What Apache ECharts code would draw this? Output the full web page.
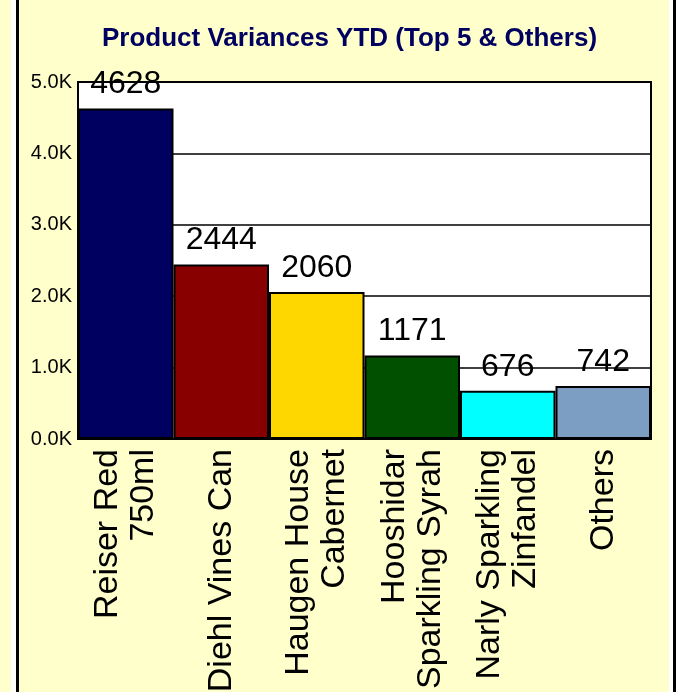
<!DOCTYPE html>
<html>
<head>
<meta charset="utf-8">
<script src="https://cdn.jsdelivr.net/npm/echarts@6/dist/echarts.min.js"></script>
<style>
html,body{margin:0;padding:0;background:#FFFFCC;}
#c{width:681px;height:692px;}
</style>
</head>
<body>
<div id="c"></div>
<script>
var categories = ['Reiser Red\n750ml', 'Diehl Vines Can', 'Haugen House\nCabernet', 'Hooshidar\nSparkling Syrah', 'Narly Sparkling\nZinfandel', 'Others'];
var values = [4628, 2444, 2060, 1171, 676, 742];
var barColors = ['#000060', '#880000', '#FFD700', '#005000', '#00FFFF', '#7B9EC2'];
var titleText = 'Product Variances YTD (Top 5 & Others)';

var chart = echarts.init(document.getElementById('c'), null, {renderer: 'canvas'});
chart.setOption({
  backgroundColor: '#FFFFCC',
  animation: false,
  title: {
    text: titleText,
    left: 97,
    top: 21,
    textStyle: {color: '#000060', fontFamily: 'Liberation Sans, Arial', fontWeight: 'bold', fontSize: 26}
  },
  graphic: [
    {type: 'rect', shape: {x: 11, y: 0, width: 5, height: 692}, style: {fill: '#ffffff'}},
    {type: 'rect', shape: {x: 16, y: 0, width: 3, height: 692}, style: {fill: '#000000'}},
    {type: 'rect', shape: {x: 669, y: 0, width: 4, height: 692}, style: {fill: '#ffffff'}},
    {type: 'rect', shape: {x: 673, y: 0, width: 3, height: 692}, style: {fill: '#000000'}},
    {type: 'rect', shape: {x: 676, y: 0, width: 5, height: 692}, style: {fill: '#ffffff'}}
  ],
  grid: {
    left: 78, right: 30, top: 82, bottom: 253,
    containLabel: false, outerBoundsMode: 'none',
    show: true, backgroundColor: '#ffffff', borderColor: '#000', borderWidth: 2
  },
  xAxis: {
    type: 'category',
    data: categories,
    axisLine: {show: true, lineStyle: {color: '#000', width: 2}},
    axisTick: {show: false},
    axisLabel: {
      rotate: 90, interval: 0, margin: 10, color: '#000',
      fontFamily: 'Liberation Sans, Arial', fontSize: 34, lineHeight: 36
    }
  },
  yAxis: {
    type: 'value',
    min: 0, max: 5000, interval: 1000,
    axisLine: {show: false},
    axisTick: {show: false},
    splitLine: {show: true, lineStyle: {color: '#000', width: 1.5}},
    axisLabel: {
      margin: 6, color: '#000', fontFamily: 'Liberation Sans, Arial', fontSize: 20,
      formatter: function (v) { return (v / 1000).toFixed(1) + 'K'; }
    }
  },
  series: [{
    type: 'bar',
    data: values.map(function (v, i) { return {value: v, itemStyle: {color: barColors[i]}}; }),
    barCategoryGap: '0%',
    itemStyle: {borderColor: '#000', borderWidth: 2},
    label: {
      show: true, position: 'top', distance: 8, color: '#000',
      fontFamily: 'Liberation Sans, Arial', fontSize: 32
    }
  }]
});
</script>
</body>
</html>
